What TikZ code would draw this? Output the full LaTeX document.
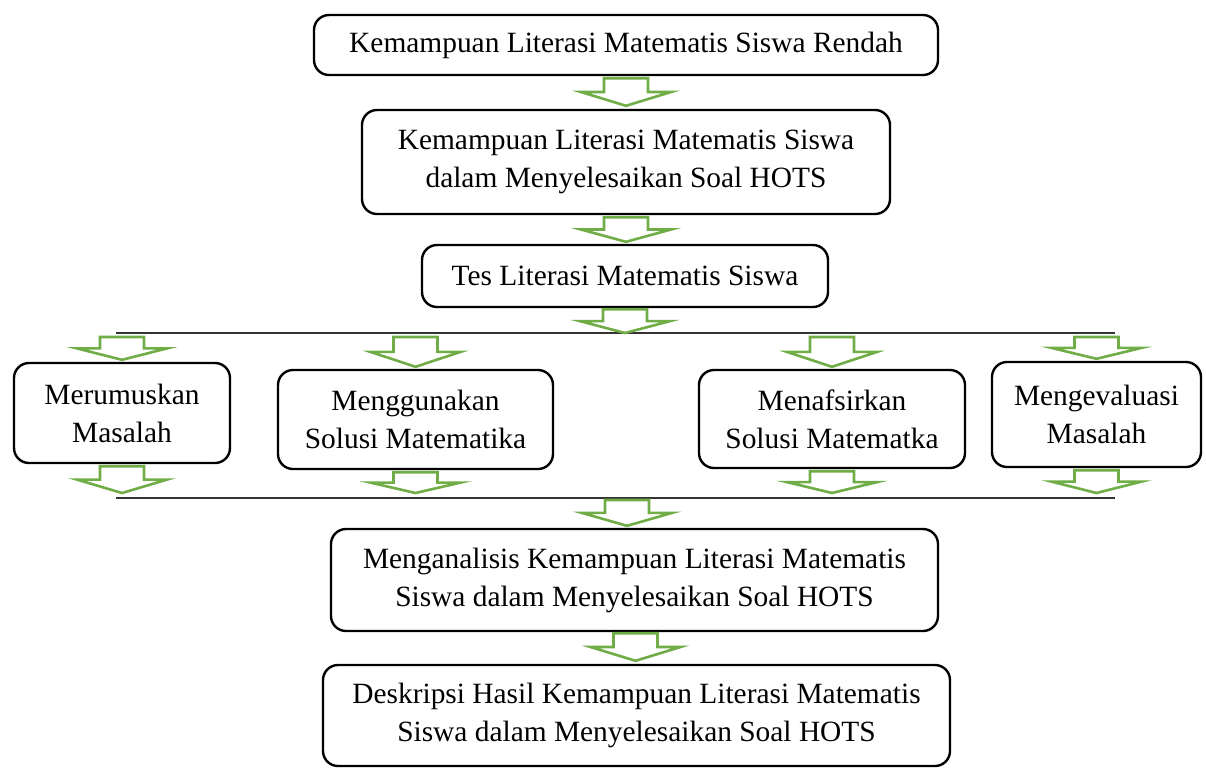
\documentclass[tikz,border=0pt]{standalone}
\usepackage{fontspec}
\setmainfont{Liberation Serif}
\usetikzlibrary{calc, positioning}
\definecolor{arrowgreen}{HTML}{70AD47}
\tikzset{
  box/.style={
    rectangle, rounded corners=7.5pt, draw=black, line width=1.2pt,
    align=center, inner sep=0pt,
    font=\fontsize{14.7}{19}\selectfont,
  },
  flow/.style={
    draw=arrowgreen, line width=1.3pt, line join=miter
  },
  split/.style={
    draw=black!80, line width=0.7pt
  }
}
% hollow block arrow pointing down, from #1 (top) to #2 (tip)
\newcommand{\blockarr}[2]{%
  \path[flow] let \p1=(#1), \p2=(#2), \n1={(\y1-\y2)/2} in
    (\x1-11pt,\y1) -- (\x1+11pt,\y1) -- (\x1+11pt,\y1-\n1) -- (\x1+22.5pt,\y1-\n1)
    -- (\x1,\y2) -- (\x1-22.5pt,\y1-\n1) -- (\x1-11pt,\y1-\n1) -- cycle;
}

\begin{document}
\begin{tikzpicture}[x=0.5pt, y=-0.5pt]
  \useasboundingbox (0,0) rectangle (1206,767);

  \node[box, minimum width=312pt, minimum height=30pt] (rendah) at (626,45)
    {Kemampuan Literasi Matematis Siswa Rendah};
  \node[box, minimum width=264pt, minimum height=52pt] (hots) at (626,162)
    {Kemampuan Literasi Matematis Siswa\\dalam Menyelesaikan Soal HOTS};
  \node[box, minimum width=203pt, minimum height=31pt] (tes) at (625,276)
    {Tes Literasi Matematis Siswa};

  \coordinate (splitL) at (116,333);
  \coordinate (splitR) at (1115,333);
  \draw[split] (splitL) -- (splitR);

  \node[box, minimum width=108pt, minimum height=50pt] (rumus) at (122,413)
    {Merumuskan\\Masalah};
  \node[box, minimum width=137.5pt, minimum height=49.5pt] (guna) at (415.5,419.5)
    {Menggunakan\\Solusi Matematika};
  \node[box, minimum width=133pt, minimum height=49pt] (tafsir) at (832,419)
    {Menafsirkan\\Solusi Matematka};
  \node[box, minimum width=104.5pt, minimum height=52.5pt] (evaluasi) at (1096.5,414.5)
    {Mengevaluasi\\Masalah};

  \coordinate (joinL) at (116,498);
  \coordinate (joinR) at (1115,498);
  \draw[split] (joinL) -- (joinR);

  \node[box, minimum width=303.5pt, minimum height=51pt] (analisis) at (634.5,580)
    {Menganalisis Kemampuan Literasi Matematis\\Siswa dalam Menyelesaikan Soal HOTS};
  \node[box, minimum width=313.5pt, minimum height=50.5pt] (deskripsi) at (636.5,715.5)
    {Deskripsi Hasil Kemampuan Literasi Matematis\\Siswa dalam Menyelesaikan Soal HOTS};

  % arrows
  \blockarr{$(rendah.south)+(0,2)$}{$(hots.north)+(0,-3)$}
  \blockarr{$(hots.south)+(0,2)$}{$(tes.north)+(0,-2)$}
  \blockarr{$(tes.south)+(0,1)$}{$(tes.south |- splitL)$}
  \foreach \m in {rumus, guna, tafsir, evaluasi} {
    \blockarr{$(\m.north |- splitL)+(0,4)$}{$(\m.north)+(0,-2)$}
    \blockarr{$(\m.south)+(0,2)$}{$(\m.south |- joinL)+(0,-5)$}
  }
  \blockarr{$(627,498)+(0,2)$}{$(analisis.north)+(-7,-2)$}
  \blockarr{$(analisis.south)+(1,1)$}{$(deskripsi.north)+(0,-3)$}
\end{tikzpicture}
\end{document}
